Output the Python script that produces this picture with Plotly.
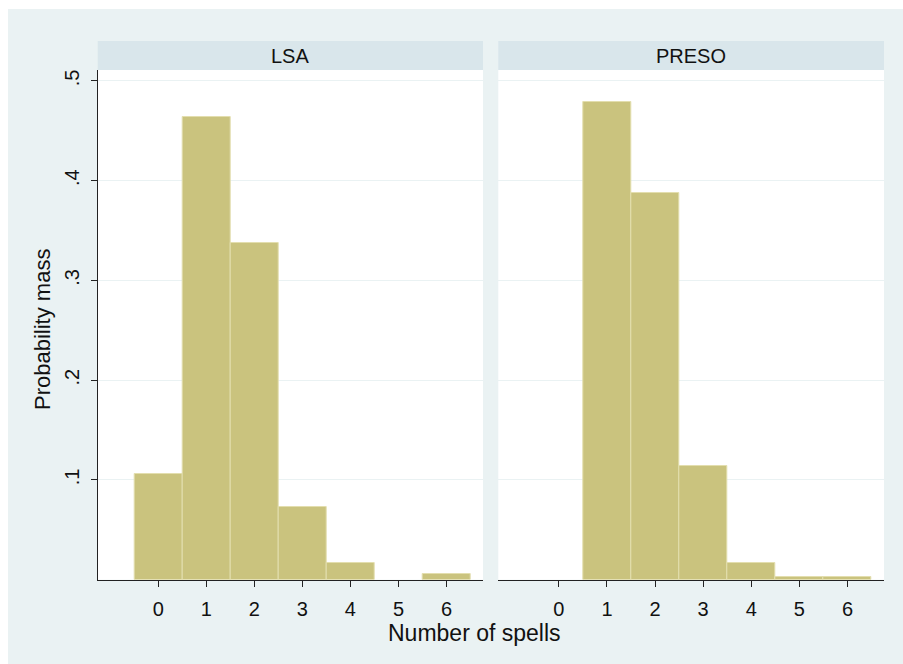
import plotly.graph_objects as go
from plotly.subplots import make_subplots

# Number of spells and probability mass per group
spells = [0, 1, 2, 3, 4, 5, 6]
lsa_mass = [0.1057, 0.4640, 0.3373, 0.0732, 0.0165, 0.0, 0.0055]
preso_mass = [0.0, 0.4787, 0.3874, 0.1140, 0.0165, 0.0030, 0.0030]
panel_titles = ["LSA", "PRESO"]
y_tickvals = [0.1, 0.2, 0.3, 0.4, 0.5]
y_ticktext = [".1", ".2", ".3", ".4", ".5"]

W, H = 903, 664
BAR_FILL = "#CAC37E"
BAR_EDGE = "#E3DEAE"
OUTER_BG = "#EAF2F3"
STRIP_BG = "#D9E6EB"
GRID = "#EAF2F3"
AXIS = "#222222"
FONT = "Liberation Sans, Arial, sans-serif"

def px_x(v):
    return v / W

def px_y(v):
    return 1 - v / H

fig = make_subplots(rows=1, cols=2, shared_yaxes=False)

for col, vals in enumerate([lsa_mass, preso_mass], start=1):
    edge = [BAR_EDGE if v > 0 else "rgba(0,0,0,0)" for v in vals]
    fig.add_trace(
        go.Bar(x=spells, y=vals, width=1.0,
               marker=dict(color=BAR_FILL, line=dict(color=edge, width=1)),
               showlegend=False, hoverinfo="x+y"),
        row=1, col=col,
    )

x_domains = [[px_x(97.7), px_x(483)], [px_x(498.3), px_x(884)]]
y_domain = [px_y(579.75), px_y(70)]
x_range = [-1.26, 6.76]
y_range = [0, 0.511]

for i, dom in enumerate(x_domains):
    ax = "xaxis" if i == 0 else "xaxis2"
    fig.layout[ax].update(
        domain=dom, range=x_range, tickvals=spells,
        ticktext=[str(s) for s in spells],
        ticks="outside", ticklen=6, tickcolor=AXIS, tickwidth=1,
        showline=True, linecolor=AXIS, linewidth=1,
        showgrid=False, zeroline=False,
        tickfont=dict(family=FONT, size=20, color="#111111"),
        ticklabelstandoff=5,
    )

fig.layout.yaxis.update(
    domain=y_domain, range=y_range, tickvals=y_tickvals, ticktext=y_ticktext,
    ticks="outside", ticklen=6, tickcolor=AXIS, tickwidth=1,
    showline=True, linecolor=AXIS, linewidth=1,
    showgrid=True, gridcolor=GRID, gridwidth=1, zeroline=False,
    tickangle=-90, tickfont=dict(family=FONT, size=20, color="#111111"),
    ticklabelstandoff=4,
)
fig.layout.yaxis2.update(
    domain=y_domain, range=y_range, tickvals=y_tickvals,
    showticklabels=False, ticks="", showline=False,
    showgrid=True, gridcolor=GRID, gridwidth=1, zeroline=False,
)

shapes = [
    # white margin strips around the graph region
    dict(type="rect", xref="paper", yref="paper", x0=0, x1=1, y0=px_y(9), y1=1,
         fillcolor="white", line=dict(width=0), layer="below"),
    dict(type="rect", xref="paper", yref="paper", x0=0, x1=px_x(8), y0=0, y1=1,
         fillcolor="white", line=dict(width=0), layer="below"),
]
annotations = []
for dom, title in zip(x_domains, panel_titles):
    shapes.append(dict(type="rect", xref="paper", yref="paper",
                       x0=dom[0], x1=dom[1], y0=px_y(70), y1=px_y(41),
                       fillcolor=STRIP_BG, line=dict(width=0), layer="below"))
    annotations.append(dict(text=title, xref="paper", yref="paper",
                            x=(dom[0] + dom[1]) / 2, y=px_y(55.5),
                            showarrow=False, xanchor="center", yanchor="middle",
                            font=dict(family=FONT, size=20, color="#111111")))

annotations.append(dict(text="Number of spells", xref="paper", yref="paper",
                        x=px_x(474), y=px_y(633), showarrow=False,
                        xanchor="center", yanchor="middle",
                        font=dict(family=FONT, size=23, color="#111111")))
annotations.append(dict(text="Probability mass", xref="paper", yref="paper",
                        x=px_x(42), y=px_y(330), showarrow=False, textangle=-90,
                        xanchor="center", yanchor="middle",
                        font=dict(family=FONT, size=22, color="#111111")))

fig.update_layout(
    width=W, height=H,
    margin=dict(l=0, r=0, t=0, b=0),
    paper_bgcolor=OUTER_BG, plot_bgcolor="white",
    bargap=0, shapes=shapes, annotations=annotations,
    font=dict(family=FONT),
)

fig.write_html("out.html", config={"displayModeBar": False})
